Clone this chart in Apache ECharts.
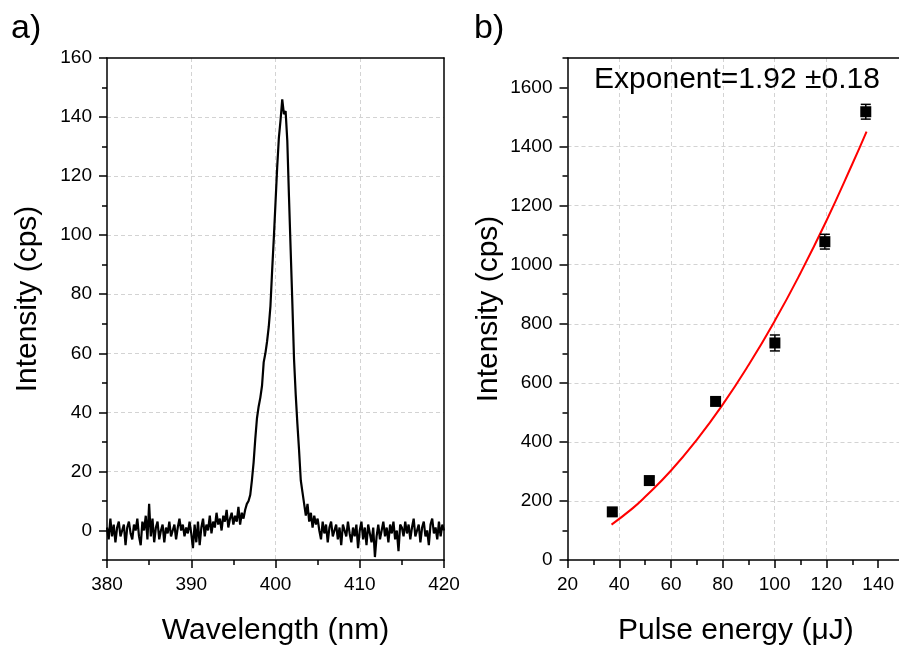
<!DOCTYPE html>
<html>
<head>
<meta charset="utf-8">
<script src="https://cdn.jsdelivr.net/npm/echarts@6/dist/echarts.min.js"></script>
<style>
html,body{margin:0;padding:0;background:#fff;}
#chart{width:899px;height:647px;}
</style>
</head>
<body>
<div id="chart"></div>
<script>
// ---------- Panel a) spectrum ----------
var wlStart = 380.0;
var wlStep = 0.2;
var specBaselineLeft = [1,-3,4,-2,2,-4,1,3,-2,0, 2,-5,1,3,-1,-3,2,0,4,-2, -5,3,0,5,-3,9,-2,4,-4,1, 3,-3,0,2,-4,1,-1,3,-2,0, 2,-3,1,4,0,2,-2,1,-1,3, -1,-6,2,-4,3,-5,1,4,-2,2, 0,5,-1,3,1,6];
var specRise = [2,4,0,5,3,7,1,4,6,2,5,3,8,2,6,4];
var specPeak = [7,9,10,12,17,23,31,38,42,45, 49,57,60,64,69,76,88,99,111,123, 133,139,146,141,142,132,113,95,77,58, 46,36,27,17,13,9,5,9,3,6, 1,5,2,4];
var specBaselineRight = [0,-3,3,-1,2,-4,1,3,-2,0, 2,-3,1,-5,2,0,-2,3,-1,-4, 1,-2,2,-6,0,3,-3,1,-5,2, -1,-4,1,-9,-2,2,-3,0,3,-2, 1,-4,2,-1,3,-3,0,-7,2,1, -2,3,-1,2,-3,1,4,-2,0,2, -4,1,3,-2,0,-5,2,4,-1,1, -3,3,-2,2,0];
var specYTicks = [0,20,40,60,80,100,120,140,160];
var specYMinor = [-10,10,30,50,70,90,110,130,150];

// ---------- Panel b) power dependence ----------
var pulseEnergy = [37.3, 51.6, 77.2, 100.1, 119.4, 135.2];
var pulseIntensity = [163, 269, 537, 735, 1078, 1518];
var pulseError = [12, 12, 12, 27, 25, 25];
var fitEnergy = [37, 45, 50, 60, 70, 80, 90, 100, 110, 120, 130, 135.5];
var fitIntensity = [120, 174, 214, 303, 408, 527, 661, 809, 972, 1149, 1341, 1451];
var pulseYTicks = [0,200,400,600,800,1000,1200,1400,1600];
var pulseYMinor = [100,300,500,700,900,1100,1300,1500,1700];
var pulseXTicks = [20,40,60,80,100,120,140];
var pulseXMinor = [30,50,70,90,110,130,150];

var FONT = '"Liberation Sans", Arial, sans-serif';

var specValues = specBaselineLeft.concat(specRise, specPeak, specBaselineRight);
var specData = specValues.map(function (v, i) {
  return [+(wlStart + i * wlStep).toFixed(2), v];
});
var pulseData = pulseEnergy.map(function (x, i) { return [x, pulseIntensity[i]]; });
var errData = pulseEnergy.map(function (x, i) { return [x, pulseIntensity[i] - pulseError[i], pulseIntensity[i] + pulseError[i]]; });
var fitData = fitEnergy.map(function (x, i) { return [x, fitIntensity[i]]; });

var splitStyle = { show: true, showMinLine: false, showMaxLine: false, lineStyle: { color: '#d3d3d3', type: [4, 3], width: 1 } };
var axLine = { show: true, onZero: false, lineStyle: { color: '#000', width: 1.5 } };
var noLine = { show: false, onZero: false };
var labStyle = { color: '#000', fontSize: 19, fontFamily: FONT, formatter: function (v) { return String(v); } };
var nameStyle = { color: '#000', fontSize: 30, fontFamily: FONT };
var tickStyle = { color: '#000', width: 1.5 };

function frameAxis(gridIndex, min, max, pos) {
  return { gridIndex: gridIndex, type: 'value', min: min, max: max, position: pos,
    axisLine: { show: true, onZero: false, lineStyle: { color: '#000', width: 1.5 } },
    axisTick: { show: false }, axisLabel: { show: false }, splitLine: { show: false } };
}

var chart = echarts.init(document.getElementById('chart'), null, { renderer: 'canvas' });
chart.setOption({
  animation: false,
  backgroundColor: '#fff',
  grid: [
    { left: 107, top: 58, width: 337, height: 502, containLabel: false, outerBoundsMode: 'none' },
    { left: 567.5, top: 58, width: 336.6, height: 502, containLabel: false, outerBoundsMode: 'none' }
  ],
  xAxis: [
    { gridIndex: 0, type: 'value', min: 380, max: 420, interval: 10, position: 'bottom',
      name: 'Wavelength (nm)', nameLocation: 'middle', nameGap: 56, nameTextStyle: nameStyle,
      axisLine: axLine, axisTick: { show: true, inside: false, length: 8, lineStyle: tickStyle },
      minorTick: { show: true, splitNumber: 2, length: 5, lineStyle: tickStyle },
      axisLabel: Object.assign({ margin: 15 }, labStyle), splitLine: splitStyle },
    { gridIndex: 1, type: 'value', min: 20, max: 150, position: 'bottom',
      name: 'Pulse energy (\u03bcJ)', nameLocation: 'middle', nameGap: 56, nameTextStyle: nameStyle,
      axisLine: axLine,
      axisTick: { show: true, inside: false, length: 8, customValues: pulseXTicks, lineStyle: tickStyle },
      axisLabel: Object.assign({ margin: 15, customValues: pulseXTicks }, labStyle), splitLine: splitStyle },
    { gridIndex: 1, type: 'value', min: 20, max: 150, position: 'bottom',
      axisLine: noLine,
      axisTick: { show: true, inside: false, length: 5, customValues: pulseXMinor, lineStyle: tickStyle },
      axisLabel: { show: false }, splitLine: { show: false } },
    frameAxis(0, 380, 420, 'top'),
    frameAxis(1, 20, 150, 'top')
  ],
  yAxis: [
    { gridIndex: 0, type: 'value', min: -10, max: 160, position: 'left',
      name: 'Intensity (cps)', nameLocation: 'middle', nameGap: 64,
      nameTextStyle: Object.assign({ padding: [0, 0, 0, 20] }, nameStyle),
      axisLine: axLine,
      axisTick: { show: true, inside: false, length: 8, customValues: specYTicks, lineStyle: tickStyle },
      axisLabel: Object.assign({ margin: 15, customValues: specYTicks }, labStyle), splitLine: splitStyle },
    { gridIndex: 0, type: 'value', min: -10, max: 160, position: 'left',
      axisLine: noLine,
      axisTick: { show: true, inside: false, length: 5, customValues: specYMinor, lineStyle: tickStyle },
      axisLabel: { show: false }, splitLine: { show: false } },
    { gridIndex: 1, type: 'value', min: 0, max: 1700, position: 'left',
      name: 'Intensity (cps)', nameLocation: 'middle', nameGap: 64, nameTextStyle: nameStyle,
      axisLine: axLine,
      axisTick: { show: true, inside: false, length: 8, customValues: pulseYTicks, lineStyle: tickStyle },
      axisLabel: Object.assign({ margin: 15, customValues: pulseYTicks }, labStyle), splitLine: splitStyle },
    { gridIndex: 1, type: 'value', min: 0, max: 1700, position: 'left',
      axisLine: noLine,
      axisTick: { show: true, inside: false, length: 5, customValues: pulseYMinor, lineStyle: tickStyle },
      axisLabel: { show: false }, splitLine: { show: false } },
    frameAxis(0, -10, 160, 'right'),
    frameAxis(1, 0, 1700, 'right')
  ],
  series: [
    { type: 'line', xAxisIndex: 0, yAxisIndex: 0, data: specData, showSymbol: false,
      lineStyle: { color: '#000', width: 2.2 }, z: 5 },
    { type: 'line', xAxisIndex: 1, yAxisIndex: 2, data: fitData, showSymbol: false, smooth: true,
      lineStyle: { color: '#ff0000', width: 2 }, z: 4 },
    { type: 'custom', xAxisIndex: 1, yAxisIndex: 2, data: errData, z: 5,
      renderItem: function (params, api) {
        var x = api.value(0);
        var lo = api.coord([x, api.value(1)]);
        var hi = api.coord([x, api.value(2)]);
        var cw = 5;
        var st = { stroke: '#000', lineWidth: 1.5 };
        return { type: 'group', children: [
          { type: 'line', shape: { x1: lo[0], y1: lo[1], x2: hi[0], y2: hi[1] }, style: st },
          { type: 'line', shape: { x1: lo[0] - cw, y1: lo[1], x2: lo[0] + cw, y2: lo[1] }, style: st },
          { type: 'line', shape: { x1: hi[0] - cw, y1: hi[1], x2: hi[0] + cw, y2: hi[1] }, style: st }
        ] };
      } },
    { type: 'scatter', xAxisIndex: 1, yAxisIndex: 2, data: pulseData, symbol: 'rect', symbolSize: 11,
      itemStyle: { color: '#000', opacity: 1 }, z: 6 }
  ],
  graphic: [
    { type: 'text', left: 11, top: 12, style: { text: 'a)', font: '34px ' + FONT, fill: '#000' } },
    { type: 'text', left: 474, top: 12, style: { text: 'b)', font: '34px ' + FONT, fill: '#000' } },
    { type: 'text', x: 737, y: 80, style: { text: 'Exponent=1.92 \u00b10.18', font: '30px ' + FONT, fill: '#000', align: 'center', verticalAlign: 'middle' }, z: 10 }
  ]
});
</script>
</body>
</html>
